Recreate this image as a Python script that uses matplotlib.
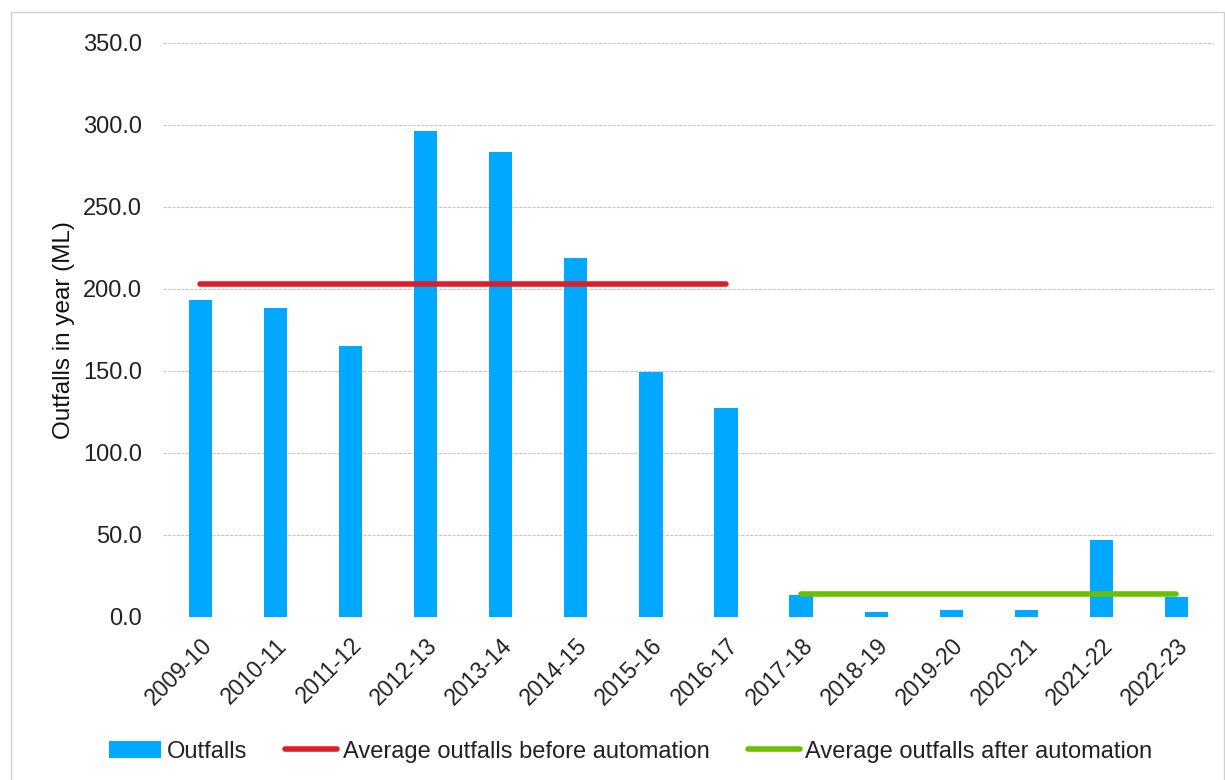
import numpy as np
import matplotlib.pyplot as plt
from matplotlib.patches import Rectangle

years = ['2009-10', '2010-11', '2011-12', '2012-13', '2013-14', '2014-15', '2015-16',
         '2016-17', '2017-18', '2018-19', '2019-20', '2020-21', '2021-22', '2022-23']
outfalls = [193.5, 188.5, 165.5, 296.0, 283.5, 219.0, 149.5,
            127.5, 13.5, 3.0, 4.3, 4.3, 47.0, 12.2]
n_before = 8  # years before automation

plt.rcParams['font.family'] = ['Liberation Sans', 'DejaVu Sans']

x = np.arange(len(years))
avg_before = np.mean(outfalls[:n_before])
avg_after = np.mean(outfalls[n_before:])

fig = plt.figure(figsize=(12.25, 7.8), dpi=100)
ax = fig.add_axes([0.133, 0.209, 0.858, 0.736])

bars = ax.bar(x, outfalls, width=0.31, color='#00a9ff', label='Outfalls', zorder=2)
l1, = ax.plot(x[:n_before], [avg_before] * n_before, color='#d9202a', lw=4, solid_capstyle='round',
              label='Average outfalls before automation', zorder=3)
l2, = ax.plot(x[n_before:], [avg_after] * (len(x) - n_before), color='#6cbf00', lw=4,
              solid_capstyle='round', label='Average outfalls after automation', zorder=3)

ax.set_xlim(-0.5, len(x) - 0.5)
ax.set_ylim(0, 350)
ax.set_yticks(np.arange(0, 351, 50))
ax.set_yticklabels([f'{v:.1f}' for v in np.arange(0, 351, 50)], fontsize=17, color='#222222')
ax.set_xticks(x)
ax.set_xticklabels(years, rotation=45, ha='right', rotation_mode='anchor', fontsize=16.5,
                   color='#222222')
ax.tick_params(axis='y', length=0, pad=15)
ax.tick_params(axis='x', length=0, pad=12)
ax.grid(axis='y', color='#c8c8c8', linestyle=(0, (3, 1)), lw=0.8, zorder=0)
for s in ax.spines.values():
    s.set_visible(False)
ax.set_ylabel('Outfalls in year (ML)', fontsize=17.5, color='#111111')
ax.yaxis.set_label_coords(-0.084, 0.5)

fig.legend([bars, l1, l2], [bars.get_label(), l1.get_label(), l2.get_label()],
           loc='lower center', bbox_to_anchor=(0.515, -0.005), ncol=3, frameon=False,
           fontsize=17, handlelength=2.2, handletextpad=0.25, columnspacing=1.6,
           labelcolor='#222222')

fig.patches.append(Rectangle((0.009, -0.01), 0.99, 0.995, transform=fig.transFigure,
                             fill=False, edgecolor='#d0d0d0', lw=1))

fig.savefig('out.png', dpi=100)
